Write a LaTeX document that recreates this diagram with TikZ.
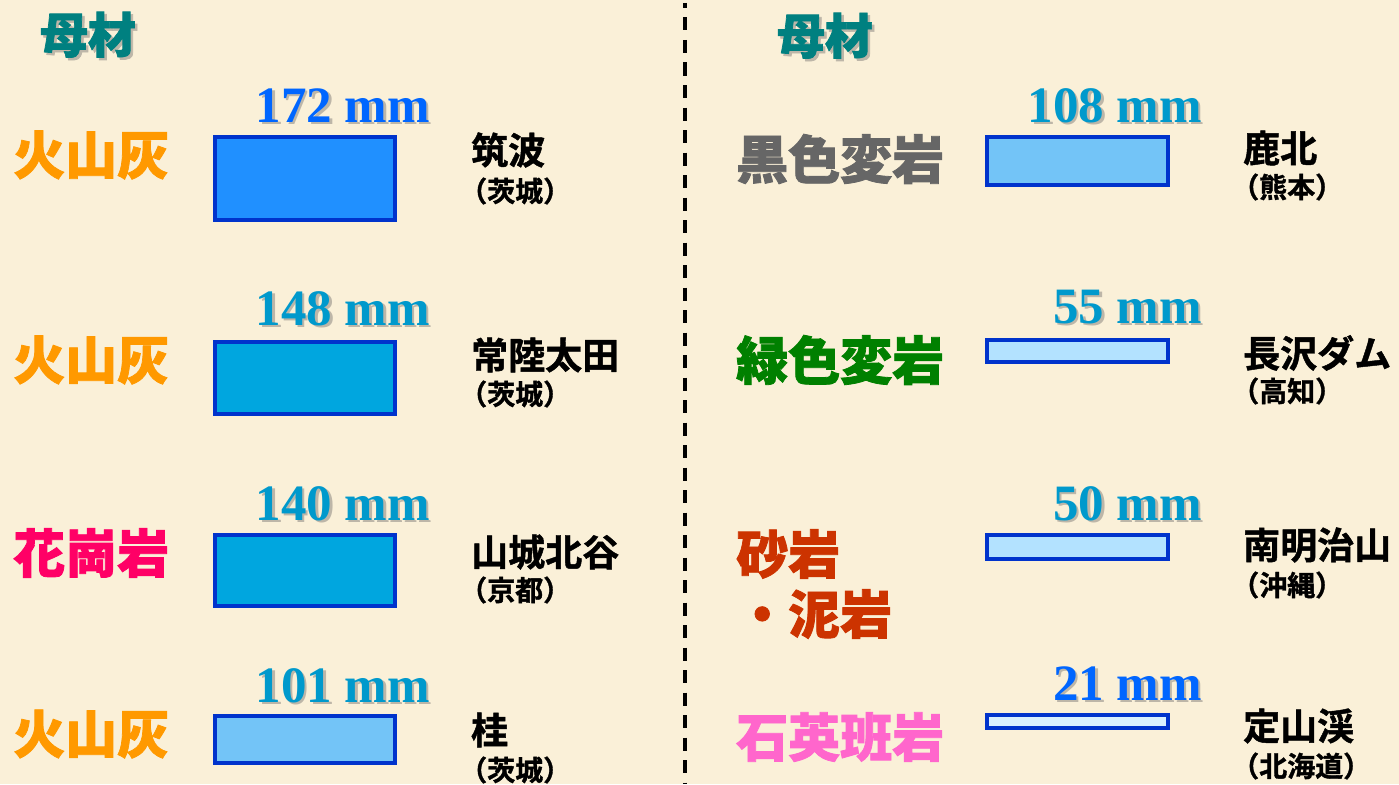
\documentclass[tikz,border=0pt]{standalone}
\usepackage{fontspec}
\IfFontExistsTF{Noto Sans CJK JP Black}{\newfontfamily\heavy{Noto Sans CJK JP Black}[FakeBold=1.5]}{\newfontfamily\heavy{Noto Sans CJK JP}[UprightFont=* Bold,FakeBold=4]}
\newfontfamily\cjk{Noto Sans CJK JP}[BoldFont=* Bold,BoldFeatures={FakeBold=1.2}]
\newfontfamily\numfont{Liberation Serif}
\definecolor{bgcol}{HTML}{FAF0D8}
\definecolor{titlecol}{HTML}{008080}
\definecolor{ashcol}{HTML}{FF9900}
\definecolor{granitecol}{HTML}{FF0066}
\definecolor{blackcol}{HTML}{666666}
\definecolor{greencol}{HTML}{008000}
\definecolor{sandcol}{HTML}{CC3300}
\definecolor{quartzcol}{HTML}{FF66CC}
\definecolor{numblue}{HTML}{0066FF}
\definecolor{numteal}{HTML}{0099CC}
\definecolor{shadowgray}{HTML}{BDB6A8}
\definecolor{barline}{HTML}{0033CC}
\definecolor{fillA}{HTML}{2090FF}
\definecolor{fillB}{HTML}{00A6DF}
\definecolor{fillC}{HTML}{73C4F7}
\definecolor{fillD}{HTML}{B3E2FF}
\definecolor{fillE}{HTML}{D9F0FF}
\newcommand\shd[2]{\makebox[0pt][l]{\hspace{2.5pt}\raisebox{-2.5pt}{\textcolor{shadowgray}{#2}}}\textcolor{#1}{#2}}
\begin{document}
\begin{tikzpicture}[x=1pt,y=-1pt,
  rock/.style={anchor=west,inner sep=0pt,font=\heavy\fontsize{52}{52}\selectfont},
  ttl/.style={inner sep=0pt,font=\heavy\fontsize{48}{48}\selectfont},
  num/.style={anchor=base east,inner sep=0pt,font=\numfont\bfseries\fontsize{51}{51}\selectfont},
  place/.style={anchor=west,inner sep=0pt,font=\cjk\bfseries\fontsize{37}{37}\selectfont},
  pref/.style={anchor=west,inner sep=0pt,font=\cjk\bfseries\fontsize{28}{28}\selectfont},
  bar/.style={draw=barline,line width=4pt,anchor=north west,inner sep=0pt,outer sep=0pt,minimum width=180pt}]
\useasboundingbox (0,0) rectangle (1399,784);
\fill[bgcol] (0,0) rectangle (1399,784);
% divider
\coordinate (dtop) at (685,3);
\coordinate (dbot) at (685,784);
\draw[line width=4pt,dash pattern=on 13pt off 9.5pt,dash phase=8pt] (dtop) -- (dbot);
% titles
\node[ttl] (t1) at (88,36) {\shd{titlecol}{母材}};
\node[ttl] (t2) at (825,37) {\shd{titlecol}{母材}};
% left rock labels
\node[rock,text=ashcol] (l1) at (13,155) {火山灰};
\node[rock,text=ashcol] (l2) at (13,360) {火山灰};
\node[rock,text=granitecol] (l3) at (13,553) {花崗岩};
\node[rock,text=ashcol] (l4) at (13,734) {火山灰};
% right rock labels
\node[rock,text=blackcol] (r1) at (736,159) {黒色変岩};
\node[rock,text=greencol] (r2) at (736,360) {緑色変岩};
\node[rock,text=sandcol] (r3a) at (736,554) {砂岩};
\node[rock,text=sandcol] (r3b) at (736,614) {・泥岩};
\node[rock,text=quartzcol] (r4) at (736,737) {石英班岩};
% bars left
\node[bar,fill=fillA,minimum height=83pt] (b1) at (215,137) {};
\node[bar,fill=fillB,minimum height=71.5pt] (b2) at (215,342) {};
\node[bar,fill=fillB,minimum height=71pt] (b3) at (215,535) {};
\node[bar,fill=fillC,minimum height=47pt] (b4) at (215,716) {};
% bars right
\node[bar,fill=fillC,minimum width=181pt,minimum height=48pt] (c1) at (987,137) {};
\node[bar,fill=fillD,minimum width=181pt,minimum height=22pt] (c2) at (987,340) {};
\node[bar,fill=fillD,minimum width=181pt,minimum height=24pt] (c3) at (987,535) {};
\node[bar,fill=fillE,minimum width=181pt,minimum height=13pt] (c4) at (987,715) {};
% numbers
\node[num] (n1) at (430,122) {\shd{numblue}{172 mm}};
\node[num] (n2) at (430,325) {\shd{numteal}{148 mm}};
\node[num] (n3) at (430,520) {\shd{numteal}{140 mm}};
\node[num] (n4) at (430,702) {\shd{numteal}{101 mm}};
\node[num] (m1) at (1202,122) {\shd{numteal}{108 mm}};
\node[num] (m2) at (1202,323) {\shd{numteal}{55 mm}};
\node[num] (m3) at (1202,520) {\shd{numteal}{50 mm}};
\node[num] (m4) at (1202,700) {\shd{numblue}{21 mm}};
% places left
\node[place] (p1) at (471,150) {筑波};
\node[pref] (q1) at (459,191) {（茨城）};
\node[place] (p2) at (471,355) {常陸太田};
\node[pref] (q2) at (459,394) {（茨城）};
\node[place] (p3) at (471,552) {山城北谷};
\node[pref] (q3) at (459,590) {（京都）};
\node[place] (p4) at (471,730) {桂};
\node[pref] (q4) at (459,770) {（茨城）};
% places right
\node[place] (s1) at (1243,148) {鹿北};
\node[pref] (u1) at (1231,187) {（熊本）};
\node[place] (s2) at (1243,353) {長沢ダム};
\node[pref] (u2) at (1231,391) {（高知）};
\node[place] (s3) at (1243,545) {南明治山};
\node[pref] (u3) at (1231,585) {（沖縄）};
\node[place] (s4) at (1243,726) {定山渓};
\node[pref] (u4) at (1231,766) {（北海道）};
\end{tikzpicture}
\end{document}
